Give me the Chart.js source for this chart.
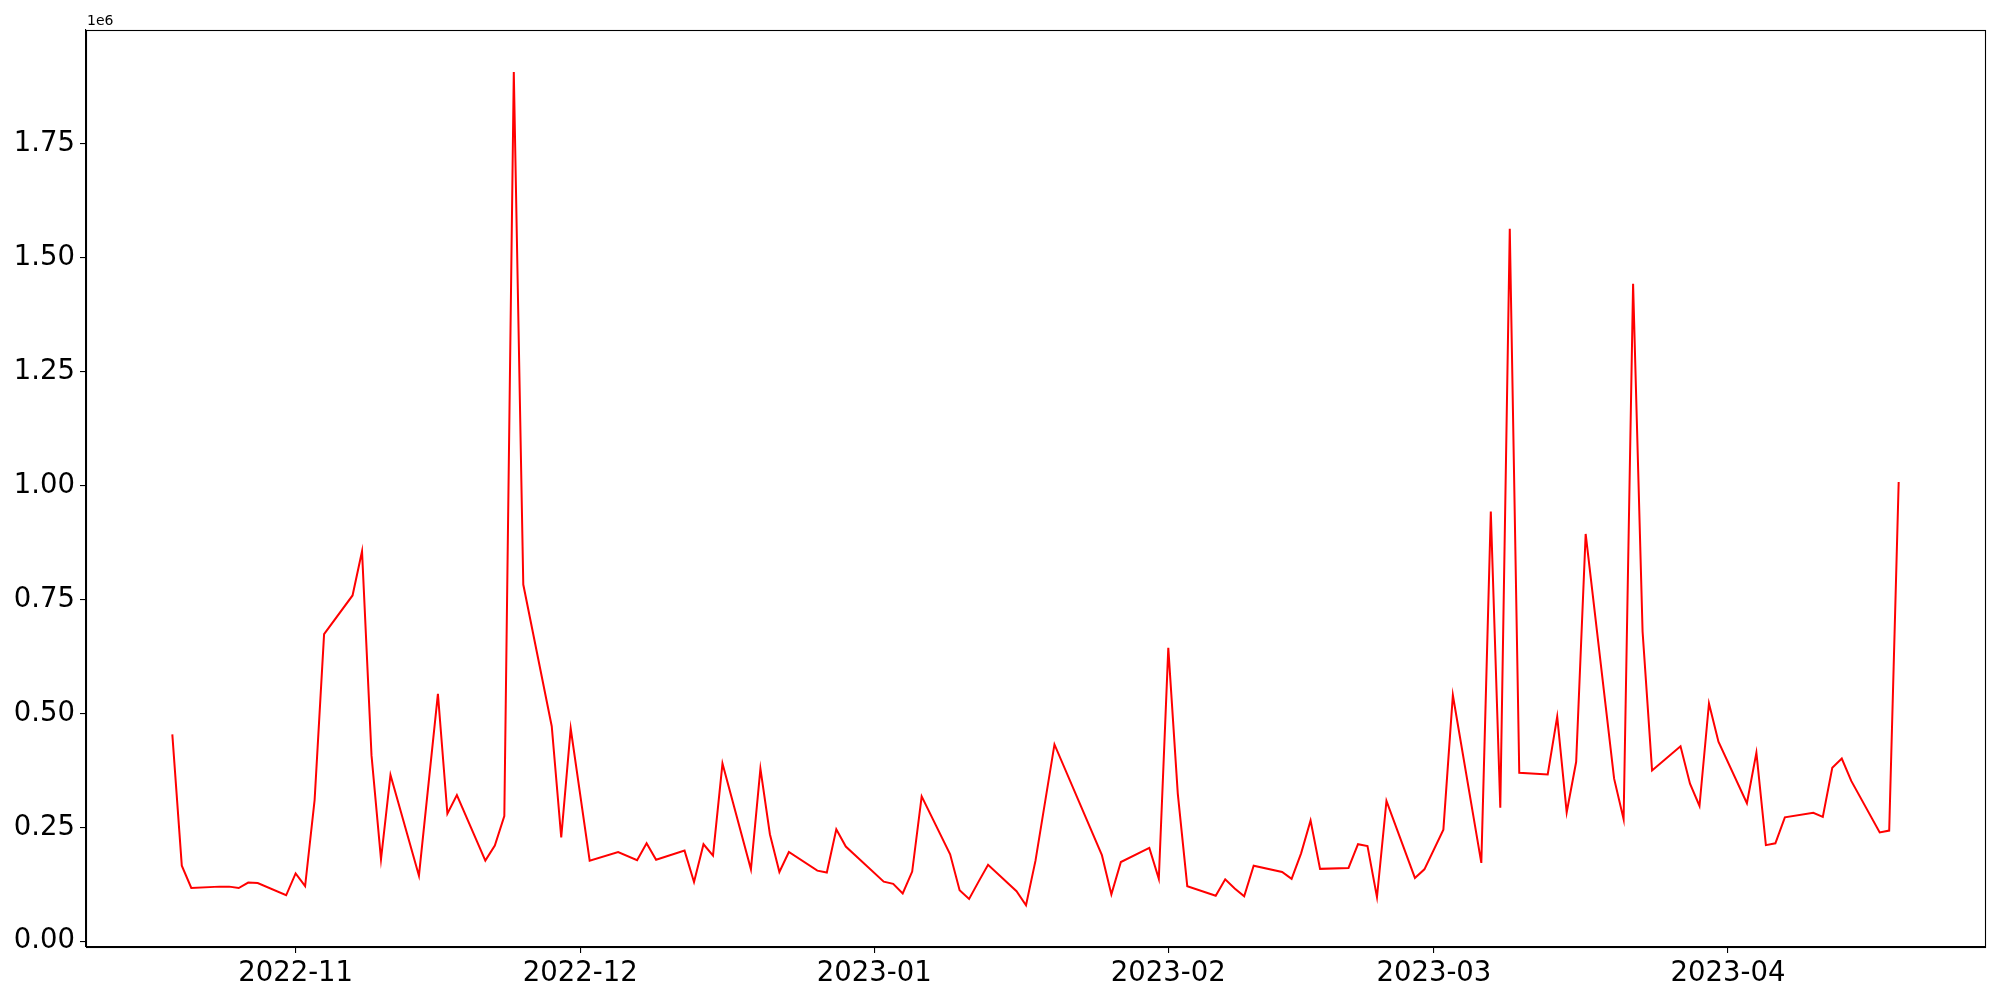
<!DOCTYPE html>
<html>
<head>
<meta charset="utf-8">
<script src="https://cdn.jsdelivr.net/npm/chart.js@4/dist/chart.umd.min.js"></script>
<style>
  html, body { margin: 0; padding: 0; background: #fff; }
  #wrap { width: 2000px; height: 1000px; }
</style>
</head>
<body>
<div id="wrap"><canvas id="chart" width="2000" height="1000"></canvas></div>
<script>
// Data (business days, gaps where the line runs straight)
const dates = [
  "2022-10-19", "2022-10-20", "2022-10-21", "2022-10-24", "2022-10-25", "2022-10-26", "2022-10-27", "2022-10-28", "2022-10-31",
  "2022-11-01", "2022-11-02", "2022-11-03", "2022-11-04", "2022-11-07", "2022-11-08", "2022-11-09", "2022-11-10", "2022-11-11",
  "2022-11-14", "2022-11-16", "2022-11-17", "2022-11-18", "2022-11-21", "2022-11-22", "2022-11-23", "2022-11-24", "2022-11-25",
  "2022-11-28", "2022-11-29", "2022-11-30",
  "2022-12-02", "2022-12-05", "2022-12-07", "2022-12-08", "2022-12-09", "2022-12-12", "2022-12-13", "2022-12-14", "2022-12-15",
  "2022-12-16", "2022-12-19", "2022-12-20", "2022-12-21", "2022-12-22", "2022-12-23", "2022-12-26", "2022-12-27", "2022-12-28",
  "2022-12-29",
  "2023-01-02", "2023-01-03", "2023-01-04", "2023-01-05", "2023-01-06", "2023-01-09", "2023-01-10", "2023-01-11", "2023-01-12",
  "2023-01-13", "2023-01-16", "2023-01-17", "2023-01-18", "2023-01-20", "2023-01-25", "2023-01-26", "2023-01-27", "2023-01-30",
  "2023-01-31",
  "2023-02-01", "2023-02-02", "2023-02-03", "2023-02-06", "2023-02-07", "2023-02-08", "2023-02-09", "2023-02-10", "2023-02-13",
  "2023-02-14", "2023-02-15", "2023-02-16", "2023-02-17", "2023-02-20", "2023-02-21", "2023-02-22", "2023-02-23", "2023-02-24",
  "2023-02-27", "2023-02-28",
  "2023-03-02", "2023-03-03", "2023-03-06", "2023-03-07", "2023-03-08", "2023-03-09", "2023-03-10", "2023-03-13", "2023-03-14",
  "2023-03-15", "2023-03-16", "2023-03-17", "2023-03-20", "2023-03-21", "2023-03-22", "2023-03-23", "2023-03-24", "2023-03-27",
  "2023-03-28", "2023-03-29", "2023-03-30", "2023-03-31",
  "2023-04-03", "2023-04-04", "2023-04-05", "2023-04-06", "2023-04-07", "2023-04-10", "2023-04-11", "2023-04-12", "2023-04-13",
  "2023-04-14", "2023-04-17", "2023-04-18", "2023-04-19",
]

const values = [
  454000, 166000, 117000, 120000, 120000, 117000, 129000, 128000, 101000,
  149000, 121000, 310000, 674000, 759000, 856000, 408000, 180000, 365000,
  144000, 543000, 280000, 321000, 177000, 210000, 275000, 1908000, 783000,
  472000, 228000, 467000,
  177000, 196000, 178000, 215000, 179000, 199000, 130000, 213000, 188000,
  390000, 158000, 379000, 235000, 152000, 196000, 155000, 151000, 246000,
  208000,
  131000, 126000, 105000, 153000, 318000, 191000, 112000, 93000, 131000,
  168000, 110000, 79000, 177000, 432000, 189000, 103000, 174000, 205000,
  137000,
  644000, 324000, 121000, 100000, 136000, 116000, 99000, 166000, 152000,
  137000, 193000, 265000, 159000, 161000, 213000, 209000, 97000, 308000,
  139000, 158000,
  245000, 540000, 172000, 943000, 293000, 1564000, 370000, 366000, 493000,
  283000, 394000, 894000, 357000, 268000, 1443000, 680000, 375000, 428000,
  346000, 297000, 522000, 438000,
  303000, 414000, 211000, 215000, 272000, 282000, 273000, 381000, 401000,
  352000, 239000, 243000, 1008000,
]

const monthTicks = ["2022-11-01", "2022-12-01", "2023-01-01", "2023-02-01", "2023-03-01", "2023-04-01"]
const yTicks = [0, 250000, 500000, 750000, 1000000, 1250000, 1500000, 1750000]

// date string -> day number
function toDay(s) {
  const p = s.split("-").map(Number)
  return Date.UTC(p[0], p[1] - 1, p[2]) / 864e5
}

const points = dates.map((d, i) => ({ x: toDay(d), y: values[i] }))
const firstDay = toDay(dates[0])
const lastDay = toDay(dates[dates.length - 1])
const xPad = (lastDay - firstDay) * 0.05

const tickFont = { family: "DejaVu Sans", size: 27.5 }

// frame around plot area plus the 1e6 offset label
const framePlugin = {
  id: "frame",
  afterDraw(chart) {
    const a = chart.chartArea
    const c = chart.ctx
    c.save()
    c.strokeStyle = "#000"
    c.lineWidth = 1.1
    c.strokeRect(a.left + 0.5, a.top + 0.5, a.right - a.left, a.bottom - a.top)
    c.fillStyle = "#000"
    c.font = "14px 'DejaVu Sans'"
    c.textBaseline = "alphabetic"
    c.fillText("1e6", a.left + 1, a.top - 5)
    c.restore()
  },
}

const ctx = document.getElementById("chart").getContext("2d")

new Chart(ctx, {
  type: "line",
  data: {
    datasets: [
      {
        data: points,
        borderColor: "#ff0000",
        borderWidth: 2,
        pointRadius: 0,
        tension: 0,
        fill: false,
      },
    ],
  },
  options: {
    responsive: false,
    animation: false,
    layout: { padding: { top: 30, right: 15, left: 0, bottom: 0 } },
    plugins: {
      legend: { display: false },
      tooltip: { enabled: false },
    },
    scales: {
      x: {
        type: "linear",
        min: firstDay - xPad,
        max: lastDay + xPad,
        afterBuildTicks: (scale) => {
          scale.ticks = monthTicks.map((m) => ({ value: toDay(m) }))
        },
        afterFit: (scale) => {
          scale.height = 53
        },
        grid: { drawOnChartArea: false, drawTicks: true, tickLength: 6, color: "#000", lineWidth: 1.1 },
        border: { display: true, color: "#000", width: 1.1 },
        ticks: {
          color: "#000",
          font: tickFont,
          padding: 4,
          maxRotation: 0,
          autoSkip: false,
          callback: (v) => new Date(v * 864e5).toISOString().slice(0, 7),
        },
      },
      y: {
        min: -12500,
        max: 2000000,
        afterBuildTicks: (scale) => {
          scale.ticks = yTicks.map((v) => ({ value: v }))
        },
        afterFit: (scale) => {
          scale.width = 86
        },
        grid: { drawOnChartArea: false, drawTicks: true, tickLength: 6, color: "#000", lineWidth: 1.1 },
        border: { display: true, color: "#000", width: 1.1 },
        ticks: {
          color: "#000",
          font: tickFont,
          padding: 5,
          callback: (v) => (v / 1e6).toFixed(2),
        },
      },
    },
  },
  plugins: [framePlugin],
})
</script>
</body>
</html>
